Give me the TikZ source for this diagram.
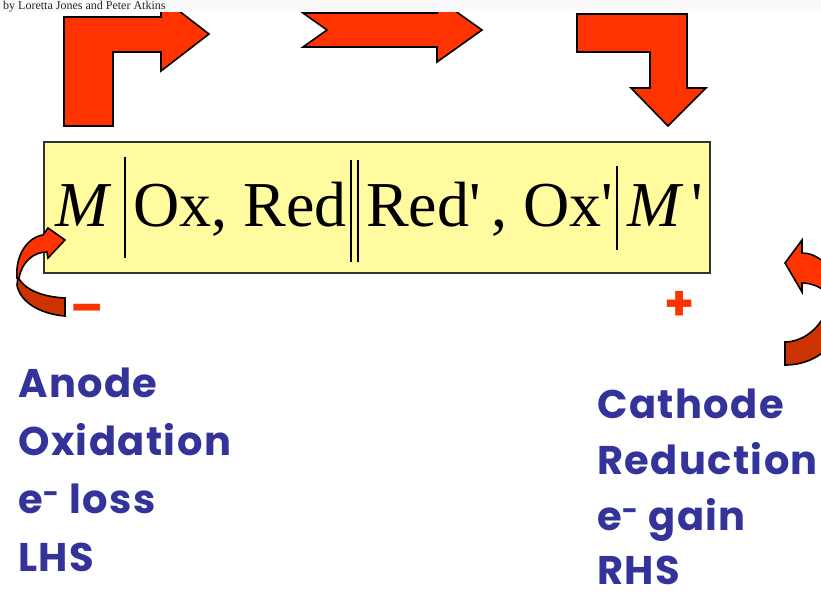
\documentclass[tikz,border=0pt]{standalone}
\usepackage{fontspec}
\setmainfont{Liberation Serif}
\newfontfamily\lblfont{Poppins}[LetterSpace=3.5]
\newfontfamily\signfont{Poppins}
\definecolor{arrowred}{HTML}{FF3300}
\definecolor{arrowdark}{HTML}{CC3300}
\definecolor{boxyellow}{HTML}{FFFB9E}
\definecolor{lblblue}{HTML}{333399}
\begin{document}
\begin{tikzpicture}[x=1pt,y=-1pt,
  blockarrow/.style={fill=arrowred, draw=black, line width=1.6pt, line join=miter},
  backarrow/.style={fill=arrowdark, draw=black, line width=1.6pt, line join=miter},
  cellbox/.style={draw=black!80, line width=1.5pt, fill=boxyellow, minimum width=666pt, minimum height=131pt, inner sep=0pt},
  formula/.style={font=\fontsize{64}{70}\selectfont, inner sep=0pt, anchor=base west},
  bar/.style={line width=2.2pt},
  lbl/.style={font=\lblfont\bfseries\fontsize{40}{48}\selectfont, text=lblblue, inner sep=0pt, anchor=base west},
  sign/.style={font=\signfont\bfseries\fontsize{48}{48}\selectfont, text=arrowred, inner sep=0pt, anchor=base}]
\useasboundingbox (0,0) rectangle (821,595);
\clip (0,0) rectangle (821,595);
\fill[white] (0,0) rectangle (821,595);
% top block arrows
\draw[blockarrow] (64,126) -- (64,17) -- (161,17) -- (161,-3) -- (209,34) -- (161,71) -- (161,52) -- (113,52) -- (113,126) -- cycle;
\draw[blockarrow] (303,13) -- (437,13) -- (437,-2) -- (482,30) -- (437,62) -- (437,47) -- (303,47) -- (327,30) -- cycle;
\draw[blockarrow] (577,14) -- (687,14) -- (687,88) -- (706,88) -- (668,126) -- (631,88) -- (650,88) -- (650,52) -- (577,52) -- cycle;
% header strip
\fill[black!2] (0,0) rectangle (821,12);
\node[anchor=base west, inner sep=0pt, font=\fontsize{12}{13}\selectfont, text=black!85] (credit) at (3,9) {by Loretta Jones and Peter Atkins};
% cell notation box
\node[cellbox] (cell) at (377,207.5) {};
\node[formula] (m1) at (55,226) {\itshape M};
\draw[bar] (125,157) -- (125,258);
\node[formula] (oxred) at (133,226) {Ox, Red};
\draw[bar] (351,160) -- (351,262);
\draw[bar] (358,160) -- (358,262);
\node[formula] (redox) at (366,226) {Red\textquotesingle\,, Ox\textquotesingle};
\draw[bar] (617,166) -- (617,250);
\node[formula] (m2) at (627,226) {\itshape M\,\upshape\textquotesingle};
% left curved arrow
\draw[backarrow] (18,277) .. controls (25,291) and (45,297) .. (65,298) -- (65,316) .. controls (40,314) and (20,302) .. (17,285) -- cycle;
\draw[blockarrow] (17,278) .. controls (15,255) and (28,237) .. (43,235) -- (48,228) -- (65,240) -- (48,258) -- (47,252) .. controls (33,252) and (22,262) .. (19,278) -- cycle;
% right curved arrow
\draw[blockarrow] (802,253) .. controls (815,253) and (828,262) .. (836,280) -- (826,292) .. controls (820,287) and (812,283) .. (802,283) -- (802,292) -- (785,263) -- (802,240) -- cycle;
\draw[backarrow] (785,342) .. controls (800,342) and (815,332) .. (823,318) -- (840,318) -- (840,350) -- (828,348) .. controls (818,358) and (803,365) .. (785,365) -- cycle;
% signs
\node[sign] (minus) at (87,324) {\textendash};
\node[sign] (plus) at (680,320) {+};
% labels
\node[lbl] (anode) at (18,397) {Anode};
\node[lbl] (oxid) at (18,455) {Oxidation};
\node[lbl] (eloss) at (18,513) {e\textsuperscript{-} loss};
\node[lbl] (lhs) at (18,571) {LHS};
\node[lbl] (cathode) at (597,418) {Cathode};
\node[lbl] (reduction) at (597,474) {Reduction};
\node[lbl] (egain) at (597,530) {e\textsuperscript{-} gain};
\node[lbl] (rhs) at (597,584) {RHS};
\end{tikzpicture}
\end{document}
